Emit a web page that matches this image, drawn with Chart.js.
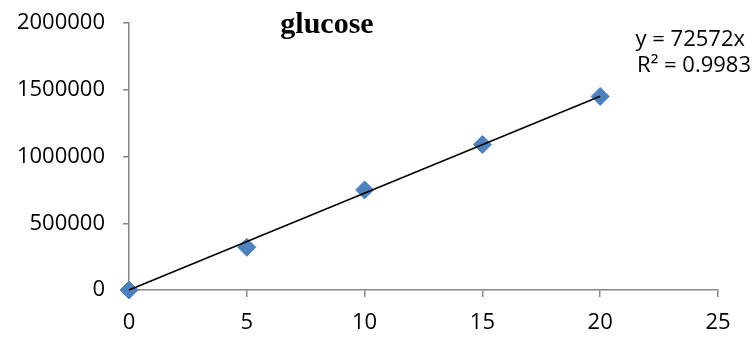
<!DOCTYPE html>
<html>
<head>
<meta charset="utf-8">
<script src="https://cdn.jsdelivr.net/npm/chart.js@4/dist/chart.umd.min.js"></script>
<style>
  html, body { margin: 0; padding: 0; background: #fff; }
  #wrap { width: 754px; height: 339px; }
</style>
</head>
<body>
<div id="wrap"><canvas id="chart" width="754" height="339"></canvas></div>
<script>
// glucose standard curve
const concentrations = [0, 5, 10, 15, 20];
const peakAreas = [0, 320000, 750000, 1090000, 1450000];
const xTicks = [0, 5, 10, 15, 20, 25];
const yTicks = [0, 500000, 1000000, 1500000, 2000000];
const slope = 72572;
const rSquared = '0.9983';

const points = concentrations.map((x, i) => ({ x: x, y: peakAreas[i] }));
const trend = [
    { x: concentrations[0], y: slope * concentrations[0] },
    { x: concentrations[concentrations.length - 1], y: slope * concentrations[concentrations.length - 1] }
];

const axisGray = '#868686';
const tickFont = { family: 'Open Sans', size: 22 };

// title and equation sit at fixed spots like the excel export
const labelsPlugin = {
    id: 'labels',
    afterDraw(chart) {
        const ctx = chart.ctx;
        ctx.save();
        ctx.fillStyle = '#000';
        ctx.textBaseline = 'alphabetic';
        ctx.font = 'bold 30px "Liberation Serif"';
        ctx.textAlign = 'center';
        ctx.fillText('glucose', 327, 33);
        ctx.font = '22px "Open Sans"';
        ctx.textAlign = 'right';
        ctx.fillText('y = 72572x', 745, 46);
        ctx.fillText('R² = ' + rSquared, 751, 72);
        ctx.restore();
    }
};

new Chart(document.getElementById('chart').getContext('2d'), {
    type: 'scatter',
    data: {
        datasets: [
            {
                label: 'Linear',
                type: 'line',
                data: trend,
                borderColor: '#000',
                borderWidth: 1.5,
                pointRadius: 0,
                fill: false,
                clip: false,
                order: 0
            },
            {
                label: 'glucose',
                data: points,
                pointStyle: 'rectRot',
                pointRadius: 9,
                pointHoverRadius: 9,
                backgroundColor: '#4F81BD',
                borderColor: '#4F81BD',
                borderWidth: 1,
                clip: false,
                order: 1
            }
        ]
    },
    options: {
        responsive: false,
        animation: false,
        layout: { padding: { top: 23, right: 36, bottom: 0, left: 0 } },
        plugins: {
            legend: { display: false },
            tooltip: { enabled: false }
        },
        scales: {
            x: {
                type: 'linear',
                min: 0,
                max: 25,
                afterBuildTicks: axis => { axis.ticks = xTicks.map(v => ({ value: v })); },
                afterFit: axis => { axis.height = 49; },
                grid: { drawOnChartArea: false, color: axisGray, lineWidth: 1.5, tickLength: 7 },
                border: { color: axisGray, width: 1.5 },
                ticks: { color: '#000', font: tickFont, padding: 13, maxRotation: 0 }
            },
            y: {
                min: 0,
                max: 2000000,
                afterBuildTicks: axis => { axis.ticks = yTicks.map(v => ({ value: v })); },
                afterFit: axis => {
                    axis.width = 129;
                    axis.paddingTop = 0;
                    axis.paddingBottom = 0;
                },
                grid: { drawOnChartArea: false, color: axisGray, lineWidth: 1.5, tickLength: 6 },
                border: { color: axisGray, width: 1.5 },
                ticks: { color: '#000', font: tickFont, padding: 18, callback: v => String(v) }
            }
        }
    },
    plugins: [labelsPlugin]
});
</script>
</body>
</html>
